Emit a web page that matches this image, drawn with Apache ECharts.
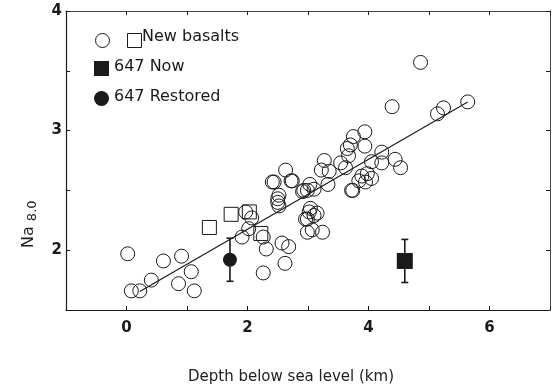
<!DOCTYPE html>
<html>
<head>
<meta charset="utf-8">
<script src="https://cdn.jsdelivr.net/npm/echarts@6/dist/echarts.min.js"></script>
<style>
  html, body { margin: 0; padding: 0; background: #fff; }
  #chart { width: 553px; height: 390px; }
</style>
</head>
<body>
<div id="chart"></div>
<script>
// open circles: other basalts [depth km, Na8.0]
var basalts = [
  [0.02, 1.97], [0.08, 1.66], [0.22, 1.66], [0.41, 1.75], [0.61, 1.91], [0.91, 1.95],
  [1.07, 1.82], [0.86, 1.72], [1.12, 1.66],
  [1.91, 2.11], [1.97, 2.32], [2.07, 2.27], [2.02, 2.18], [2.26, 2.11], [2.31, 2.01],
  [2.26, 1.81], [2.57, 2.06], [2.68, 2.03], [2.62, 1.89],
  [2.41, 2.57], [2.63, 2.67], [2.74, 2.58], [2.50, 2.43], [2.52, 2.37], [2.44, 2.57],
  [2.72, 2.58], [2.52, 2.46], [2.50, 2.40], [2.91, 2.49], [2.93, 2.50], [2.96, 2.26],
  [2.99, 2.15], [3.03, 2.55], [2.99, 2.50], [3.10, 2.51], [3.02, 2.32], [3.15, 2.31],
  [3.04, 2.35], [3.10, 2.29], [3.07, 2.17], [3.24, 2.15], [2.99, 2.26],
  [3.27, 2.75], [3.22, 2.67], [3.35, 2.66], [3.33, 2.55], [3.54, 2.73], [3.62, 2.69],
  [3.67, 2.79], [3.65, 2.85], [3.70, 2.88], [3.75, 2.95], [3.94, 2.99], [3.94, 2.87],
  [3.89, 2.62], [3.98, 2.64], [3.84, 2.58], [3.74, 2.50], [3.72, 2.50], [3.95, 2.57],
  [4.05, 2.60], [4.05, 2.74], [4.22, 2.73], [4.22, 2.82], [4.44, 2.76], [4.53, 2.69],
  [4.39, 3.20], [4.86, 3.57], [5.14, 3.14], [5.24, 3.19], [5.64, 3.24]
]
// open squares: new basalts
var newBasalts = [[1.37, 2.19], [1.73, 2.30], [2.03, 2.32], [2.22, 2.14]]
// site 647
var now647 = [[4.60, 1.91]]
var nowErr = [[4.60, 1.73, 2.09]]
var restored647 = [[1.71, 1.92]]
var restoredErr = [[1.71, 1.74, 2.10]]
// fitted line end points
var fitLine = [[0.22, 1.655], [5.64, 3.24]]

var xTickLabels = ['0', '2', '4', '6']
var yTickLabels = ['2', '3', '4']

var ink = '#1a1a1a'
var ch = echarts.init(document.getElementById('chart'))

function errRender(params, api) {
  var top = api.coord([api.value(0), api.value(2)])
  var bot = api.coord([api.value(0), api.value(1)])
  var w = 3.5
  var st = { stroke: ink, lineWidth: 1.6 }
  return {
    type: 'group',
    children: [
      { type: 'line', shape: { x1: top[0], y1: top[1], x2: bot[0], y2: bot[1] }, style: st },
      { type: 'line', shape: { x1: top[0] - w, y1: top[1], x2: top[0] + w, y2: top[1] }, style: st },
      { type: 'line', shape: { x1: bot[0] - w, y1: bot[1], x2: bot[0] + w, y2: bot[1] }, style: st }
    ]
  }
}

var tickFont = { color: ink, fontSize: 15, fontWeight: 'bold', fontFamily: 'DejaVu Sans' }
var legFont = { fill: ink, fontSize: 16, fontFamily: 'DejaVu Sans' }

var option = {
  animation: false,
  backgroundColor: '#fff',
  grid: { left: 66, right: 1, top: 11, bottom: 78 },
  xAxis: [
    {
      type: 'value', min: -1, max: 7, interval: 1,
      name: 'Depth below sea level (km)',
      nameLocation: 'middle',
      nameGap: 60,
      nameTextStyle: { color: '#222', fontSize: 15, fontFamily: 'DejaVu Sans', padding: [0, 34, 0, 0] },
      axisLine: { onZero: false, lineStyle: { color: ink, width: 1.2 } },
      axisTick: { inside: true, length: 4, lineStyle: { color: ink } },
      splitLine: { show: false },
      axisLabel: Object.assign({
        margin: 11,
        formatter: function (v) { return xTickLabels.indexOf(String(v)) >= 0 ? String(v) : '' }
      }, tickFont)
    },
    {
      type: 'value', position: 'top', min: -1, max: 7, interval: 1,
      axisLine: { onZero: false, lineStyle: { color: '#444', width: 1 } },
      axisTick: { inside: true, length: 4, lineStyle: { color: ink } },
      axisLabel: { show: false },
      splitLine: { show: false }
    }
  ],
  yAxis: [
    {
      type: 'value', min: 1.5, max: 4, interval: 0.5,
      axisLine: { onZero: false, lineStyle: { color: ink, width: 1.2 } },
      axisTick: { inside: true, length: 4, lineStyle: { color: ink } },
      splitLine: { show: false },
      axisLabel: Object.assign({
        margin: 4,
        formatter: function (v) { return yTickLabels.indexOf(String(v)) >= 0 ? String(v) : '' }
      }, tickFont)
    },
    {
      type: 'value', position: 'right', min: 1.5, max: 4, interval: 0.5,
      axisLine: { onZero: false, lineStyle: { color: '#444', width: 1 } },
      axisTick: { inside: true, length: 4, lineStyle: { color: ink } },
      axisLabel: { show: false },
      splitLine: { show: false }
    }
  ],
  graphic: [
    // legend
    { type: 'circle', left: 93, top: 31, shape: { r: 7 }, style: { fill: 'none', stroke: ink, lineWidth: 1 } },
    { type: 'rect', left: 125, top: 31, shape: { width: 14, height: 14 }, style: { fill: 'none', stroke: ink, lineWidth: 1 } },
    { type: 'text', left: 142, top: 29, style: Object.assign({ text: 'New basalts' }, legFont) },
    { type: 'rect', left: 94, top: 61, shape: { width: 15, height: 15 }, style: { fill: ink } },
    { type: 'text', left: 114, top: 59, style: Object.assign({ text: '647 Now' }, legFont) },
    { type: 'circle', left: 94, top: 91, shape: { r: 7.5 }, style: { fill: ink } },
    { type: 'text', left: 114, top: 89, style: Object.assign({ text: '647 Restored' }, legFont) },
    // y axis title
    {
      type: 'text', x: 18, y: 248, rotation: Math.PI / 2,
      style: {
        text: 'Na {s|8.0}',
        fill: '#222', fontSize: 16, fontFamily: 'DejaVu Sans',
        rich: { s: { fontSize: 13, fontFamily: 'DejaVu Sans', fill: '#222', padding: [8, 0, 0, 0] } }
      }
    }
  ],
  series: [
    {
      type: 'line', data: fitLine, symbol: 'none', silent: true,
      lineStyle: { color: ink, width: 1.2 }, z: 1
    },
    {
      type: 'scatter', data: basalts, symbol: 'circle', symbolSize: 14,
      itemStyle: { color: 'rgba(255,255,255,0)', borderColor: ink, borderWidth: 1, opacity: 1 }, z: 2
    },
    {
      type: 'scatter', data: newBasalts, symbol: 'rect', symbolSize: 14,
      itemStyle: { color: 'rgba(255,255,255,0)', borderColor: ink, borderWidth: 1, opacity: 1 }, z: 2
    },
    { type: 'custom', data: nowErr, renderItem: errRender, z: 3 },
    { type: 'custom', data: restoredErr, renderItem: errRender, z: 3 },
    {
      type: 'scatter', data: now647, symbol: 'rect', symbolSize: 16,
      itemStyle: { color: ink, opacity: 1 }, z: 4
    },
    {
      type: 'scatter', data: restored647, symbol: 'circle', symbolSize: 14,
      itemStyle: { color: ink, opacity: 1 }, z: 4
    }
  ]
}
ch.setOption(option)
</script>
</body>
</html>
